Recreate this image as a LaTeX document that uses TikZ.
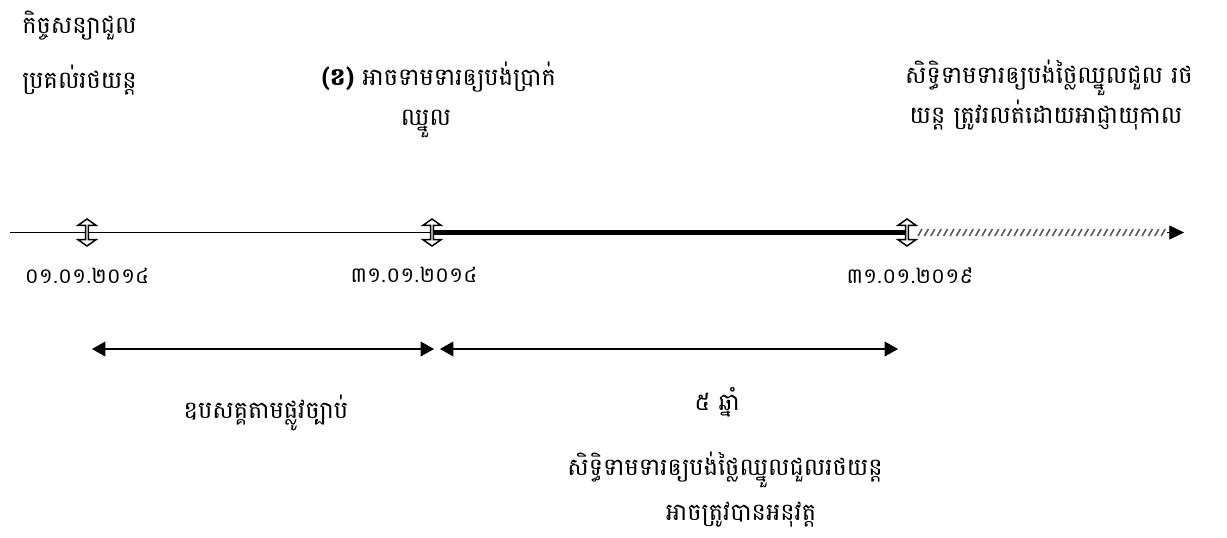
\documentclass[tikz,border=0pt]{standalone}
\usepackage{fontspec}
\newfontfamily\khmerfont[Script=Khmer]{Battambang}
\usetikzlibrary{shapes.arrows,arrows.meta}
\tikzset{
  kmtext/.style={font=\khmerfont\fontsize{18}{22}\selectfont, inner sep=0pt},
  datetext/.style={font=\khmerfont\fontsize{16}{20}\selectfont, inner sep=0pt},
  marker/.style={double arrow, draw, fill=white, rotate=90, line width=1.1pt,
    inner sep=0pt, minimum height=20.25pt, minimum width=13.5pt,
    double arrow head extend=3pt, double arrow tip angle=110},
  span/.style={line width=1.2pt, {Triangle[length=10pt,width=11pt]}-{Triangle[length=10pt,width=11pt]}}
}
\begin{document}
\begin{tikzpicture}[x=0.75pt,y=-0.75pt]
    \useasboundingbox (0,0) rectangle (1227,537);

    % time line
    \coordinate (start) at (10,232.5);
    \node[marker] (m1) at (87,232.5) {};
    \node[marker] (m2) at (432,232.5) {};
    \node[marker] (m3) at (907,232.5) {};
    \draw[line width=1.2pt] (start) -- (m1) -- (m2);
    \draw[line width=3.75pt] (m2) -- (m3);
    \foreach \x in {918,924.4,...,1163} \draw[line width=1.2pt, black!65] (\x,236) -- (\x+4,229);
    \coordinate (hatchend) at (1167,232.5);
    \coordinate (tip) at (1184,232.5);
    \draw[line width=0.4pt, -{Triangle[length=11pt,width=10.5pt]}] (hatchend) -- (tip);

    % texts above
    \node[kmtext, anchor=base west] (contract) at (22,33) {កិច្ចសន្យាជួល};
    \node[kmtext, anchor=base west] (handover) at (22,88) {ប្រគល់រថយន្ត};
    \node[kmtext, anchor=base] (claim) at (439,85) {{\bfseries (ខ)} អាចទាមទារឲ្យបង់ប្រាក់};
    \node[kmtext, anchor=base] (rent) at (426,125) {ឈ្នួល};
    \node[kmtext, anchor=base] (lapse1) at (1049,83) {សិទ្ធិទាមទារឲ្យបង់ថ្លៃឈ្នួលជួល រថ};
    \node[kmtext, anchor=base] (lapse2) at (1046,123) {យន្ត ត្រូវរលត់ដោយអាជ្ញាយុកាល};

    % dates
    \node[datetext, anchor=base] (d1) at (87,283) {០១.០១.២០១៤};
    \node[datetext, anchor=base] (d2) at (414,282) {៣១.០១.២០១៤};
    \node[datetext, anchor=base] (d3) at (910,283) {៣១.០១.២០១៩};

    % spans
    \coordinate (s1l) at (92,349);
    \coordinate (s1r) at (434,349);
    \coordinate (s2l) at (440,349);
    \coordinate (s2r) at (898,349);
    \draw[span] (s1l) -- (s1r);
    \draw[span] (s2l) -- (s2r);
    \node[kmtext, anchor=base] (legal) at (266,418) {ឧបសគ្គតាមផ្លូវច្បាប់};
    \node[kmtext, anchor=base] (years) at (717,410) {៥ ឆ្នាំ};
    \node[kmtext, anchor=base] (right1) at (725,475) {សិទ្ធិទាមទារឲ្យបង់ថ្លៃឈ្នួលជួលរថយន្ត};
    \node[kmtext, anchor=base] (right2) at (741,520) {អាចត្រូវបានអនុវត្ត};
\end{tikzpicture}
\end{document}
